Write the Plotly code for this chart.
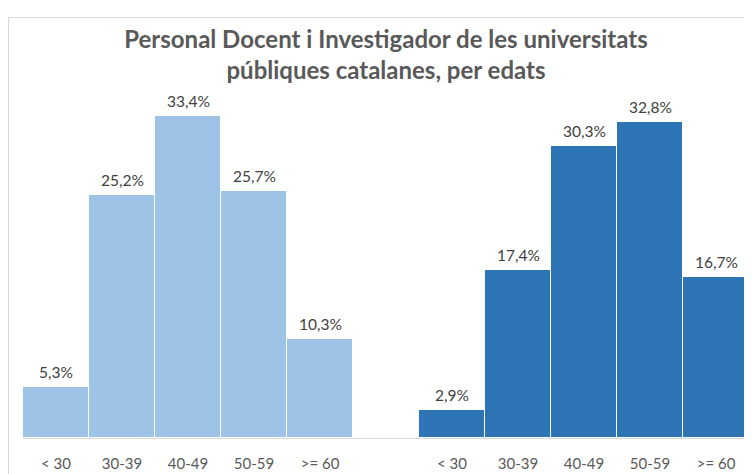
import plotly.graph_objects as go

categories = ["< 30", "30-39", "40-49", "50-59", ">= 60"]
group1_values = [5.3, 25.2, 33.4, 25.7, 10.3]
group2_values = [2.9, 17.4, 30.3, 32.8, 16.7]
color1 = "#9DC3E6"
color2 = "#2E75B6"
title_text = "Personal Docent i Investigador de les universitats<br>públiques catalanes, per edats"

n = len(categories)
x1 = list(range(n))
x2 = [n + 1 + i for i in range(n)]

def fmt(v):
    return f"{v:.1f}".replace(".", ",") + "%"

fig = go.Figure()
fig.add_trace(go.Bar(x=x1, y=group1_values, width=1, marker=dict(color=color1, line=dict(color="white", width=1)),
                     hoverinfo="skip", showlegend=False))
fig.add_trace(go.Bar(x=x2, y=group2_values, width=1, marker=dict(color=color2, line=dict(color="white", width=1)),
                     hoverinfo="skip", showlegend=False))

for xs, vals in ((x1, group1_values), (x2, group2_values)):
    for xv, v in zip(xs, vals):
        fig.add_annotation(x=xv, y=v, text=fmt(v), showarrow=False, yanchor="middle", yshift=15,
                           font=dict(family="Lato", size=15.5, color="#404040"))

# page body has an 8px margin, so figure coords = page coords - 8
L, R, T, B = 15, 11, 93, 44
W, H = 752, 474
pw = W - L - R
ph = H - T - B
fig.add_shape(type="rect", xref="paper", yref="paper",
              x0=(0.5 - L) / pw, x1=(W + 20 - L) / pw, y0=-(B + 20) / ph, y1=(H - B - 9.5) / ph,
              line=dict(color="#D9D9D9", width=1), fillcolor="rgba(0,0,0,0)", layer="below")

fig.update_layout(
    width=W, height=H,
    margin=dict(l=L, r=R, t=T, b=B),
    paper_bgcolor="white", plot_bgcolor="white",
    barmode="overlay", bargap=0,
    title=dict(text=title_text, x=0.5, xref="paper", xanchor="center", y=1 - 40 / H, yanchor="middle",
               font=dict(family="Lato", size=24, color="#595959", weight="bold")),
    xaxis=dict(range=[-0.5, 2 * n + 0.5], tickvals=x1 + x2, ticktext=categories + categories,
               showgrid=False, zeroline=False, showline=True, linecolor="#D9D9D9", linewidth=1,
               ticks="", ticklabelstandoff=12,
               tickfont=dict(family="Lato", size=15, color="#595959")),
    yaxis=dict(range=[0, 35], visible=False, showgrid=False, zeroline=False),
)

fig.write_html("out.html")
